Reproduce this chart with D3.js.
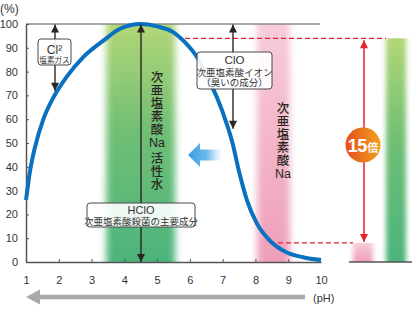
<!DOCTYPE html>
<html>
<head>
<meta charset="utf-8">
<script src="https://cdn.jsdelivr.net/npm/d3@7"></script>
<style>
  body { margin: 0; background: #fff; }
  svg { display: block; }
</style>
</head>
<body>
<script>
// pH axis and percentage axis
const phTicks = [1, 2, 3, 4, 5, 6, 7, 8, 9, 10];
const pctTicks = [0, 10, 20, 30, 40, 50, 60, 70, 80, 90, 100];

// HClO share (%) across pH
const curvePH  = [1.0, 1.12, 1.27, 1.53, 1.83, 2.25, 2.74, 3.36, 3.87, 4.5, 5.0, 5.5, 5.8, 6.22, 6.52, 6.83, 7.1, 7.3, 7.5, 7.74, 8.05, 8.44, 8.96, 9.45, 10.0];
const curvePct = [26, 38, 48, 60, 69, 78, 86, 93, 98, 100, 99, 96.5, 93, 86, 78, 69, 59, 50, 38, 26, 16, 9, 4, 2, 0.8];

// pH ranges of the two products
const greenBandPH = [3.45, 5.55];
const pinkBandPH = [8.05, 9.05];

// side-by-side HClO comparison
const compareNames = ["次亜塩素酸Na", "次亜塩素酸Na活性水"];
const compareValues = [8, 94];
const ratioText = ["15", "倍"];

// labels (vertical runs and horizontal "Na")
const activeLabel = ["次亜塩素酸", "Na", "活性水"];
const sodiumLabel = ["次亜塩素酸", "Na"];
const cl2Label = ["Cl²", "塩素ガス"];
const cloLabel = ["ClO", "次亜塩素酸イオン", "（臭いの成分）"];
const hcloLabel = ["HClO", "次亜塩素酸殺菌の主要成分"];
const cl2Span = [100, 72];
const cloSpan = [100, 56];

const W = 412, H = 322;
const FONT = "'Liberation Sans', 'Noto Sans CJK JP', sans-serif";
const JP = "'Noto Sans CJK JP', sans-serif";

const x = d3.scaleLinear().domain([1, 10]).range([26, 321]);
const y = d3.scaleLinear().domain([0, 100]).range([262, 24]);
const xc = d3.scalePoint().domain(compareNames).range([363, 396]);
const barW = 20;

const svg = d3.select("body").append("svg").attr("width", W).attr("height", H);
const defs = svg.append("defs");

const gGrad = defs.append("linearGradient").attr("id", "gGrad").attr("x1", 0).attr("x2", 0).attr("y1", 0).attr("y2", 1);
gGrad.append("stop").attr("offset", "0%").attr("stop-color", "#b2d676");
gGrad.append("stop").attr("offset", "45%").attr("stop-color", "#70bf75");
gGrad.append("stop").attr("offset", "100%").attr("stop-color", "#4cb47c");

const pGrad = defs.append("linearGradient").attr("id", "pGrad").attr("x1", 0).attr("x2", 0).attr("y1", 0).attr("y2", 1);
pGrad.append("stop").attr("offset", "0%").attr("stop-color", "#f7ccd9");
pGrad.append("stop").attr("offset", "100%").attr("stop-color", "#ee9fb9");

const oGrad = defs.append("linearGradient").attr("id", "oGrad").attr("x1", 0).attr("x2", 1).attr("y1", 0).attr("y2", 0);
oGrad.append("stop").attr("offset", "0%").attr("stop-color", "#e4501c");
oGrad.append("stop").attr("offset", "100%").attr("stop-color", "#f3a01e");

const bGrad = defs.append("linearGradient").attr("id", "bGrad").attr("x1", 0).attr("x2", 1).attr("y1", 0).attr("y2", 0);
bGrad.append("stop").attr("offset", "0%").attr("stop-color", "#3d9fe0").attr("stop-opacity", 1);
bGrad.append("stop").attr("offset", "55%").attr("stop-color", "#5ab0e8").attr("stop-opacity", 0.9);
bGrad.append("stop").attr("offset", "100%").attr("stop-color", "#8cc8f0").attr("stop-opacity", 0);

defs.append("filter").attr("id", "hblur").attr("x", "-50%").attr("width", "200%")
  .append("feGaussianBlur").attr("stdDeviation", "3.5 0");
defs.append("filter").attr("id", "sblur").attr("x", "-50%").attr("width", "200%").attr("y", "-10%").attr("height", "120%")
  .append("feGaussianBlur").attr("stdDeviation", "2.5 0.6");

defs.append("clipPath").attr("id", "plotClip").append("rect")
  .attr("x", 0).attr("y", y(100)).attr("width", W).attr("height", y(0) - y(100));

// arrow markers
function marker(id, color, w, h) {
  defs.append("marker").attr("id", id).attr("viewBox", "0 0 10 10")
    .attr("refX", 10).attr("refY", 5).attr("markerWidth", w).attr("markerHeight", h)
    .attr("markerUnits", "userSpaceOnUse").attr("orient", "auto-start-reverse")
    .append("path").attr("d", "M0,0L10,5L0,10Z").attr("fill", color);
}
marker("arDark", "#2b2523", 9, 8);
marker("arRed", "#e8202e", 9, 8);

// pH bands
const bands = svg.append("g").attr("clip-path", "url(#plotClip)");
bands.append("rect")
  .attr("x", x(greenBandPH[0])).attr("width", x(greenBandPH[1]) - x(greenBandPH[0]))
  .attr("y", y(100)).attr("height", y(0) - y(100))
  .attr("fill", "url(#gGrad)").attr("filter", "url(#hblur)");
bands.append("rect")
  .attr("x", x(pinkBandPH[0])).attr("width", x(pinkBandPH[1]) - x(pinkBandPH[0]))
  .attr("y", y(100)).attr("height", y(0) - y(100))
  .attr("fill", "url(#pGrad)").attr("filter", "url(#hblur)");

// comparison bars
const cmp = svg.append("g").attr("clip-path", "url(#plotClip)");
cmp.selectAll("rect").data(compareNames).join("rect")
  .attr("x", d => xc(d) - barW / 2).attr("width", barW)
  .attr("y", (d, i) => y(compareValues[i])).attr("height", (d, i) => y(0) - y(compareValues[i]))
  .attr("fill", (d, i) => i === 0 ? "url(#pGrad)" : "url(#gGrad)")
  .attr("filter", "url(#sblur)");

// red dashed reference lines
svg.append("line")
  .attr("x1", 185).attr("x2", xc(compareNames[1]) - barW / 2)
  .attr("y1", y(compareValues[1])).attr("y2", y(compareValues[1]))
  .attr("stroke", "#e8202e").attr("stroke-width", 1.3).attr("stroke-dasharray", "5,3");
svg.append("line")
  .attr("x1", 270).attr("x2", xc(compareNames[0]) - barW / 2)
  .attr("y1", y(compareValues[0])).attr("y2", y(compareValues[0]))
  .attr("stroke", "#e8202e").attr("stroke-width", 1.3).attr("stroke-dasharray", "5,3");

// red double arrow between the two levels
svg.append("line")
  .attr("x1", xc(compareNames[0]) + 1).attr("x2", xc(compareNames[0]) + 1)
  .attr("y1", y(compareValues[1]) + 2).attr("y2", y(compareValues[0]) - 1)
  .attr("stroke", "#e8202e").attr("stroke-width", 1.5)
  .attr("marker-start", "url(#arRed)").attr("marker-end", "url(#arRed)");

// axes
const axisColor = "#555";
svg.append("line").attr("x1", x(1)).attr("x2", x(10) - 1).attr("y1", y(100)).attr("y2", y(100))
  .attr("stroke", "#8a8a8a").attr("stroke-width", 1.5);

const yAxis = svg.append("g").attr("transform", `translate(${x(1)},0)`)
  .call(d3.axisLeft(y).tickValues(pctTicks).tickSize(-3).tickSizeOuter(0).tickPadding(8));
const xAxis = svg.append("g").attr("transform", `translate(0,${y(0)})`)
  .call(d3.axisBottom(x).tickValues(phTicks).tickSize(-3).tickSizeOuter(0).tickPadding(14));
[yAxis, xAxis].forEach(a => {
  a.select(".domain").attr("stroke", axisColor).attr("stroke-width", 1.5);
  a.selectAll(".tick line").attr("stroke", axisColor).attr("stroke-width", 1);
  a.selectAll(".tick text").attr("fill", "#333").attr("font-size", 11).attr("font-family", FONT);
});
xAxis.selectAll(".tick").filter(d => d === 1 || d === 10).select("line").remove();

// baseline under the comparison bars
svg.append("line").attr("x1", 349).attr("x2", W).attr("y1", y(0)).attr("y2", y(0))
  .attr("stroke", axisColor).attr("stroke-width", 1.5);

svg.append("text").attr("x", 0).attr("y", 13).text("(%)")
  .attr("font-size", 12).attr("font-family", FONT).attr("fill", "#333");
svg.append("text").attr("x", 313).attr("y", 302).text("(pH)")
  .attr("font-size", 11).attr("font-family", FONT).attr("fill", "#333");

// gray arrow towards acidic side
svg.append("line").attr("x1", 38).attr("x2", 305).attr("y1", 297).attr("y2", 297)
  .attr("stroke", "#a9a9a9").attr("stroke-width", 4.5);
svg.append("path").attr("d", "M26,297L40,289.5L40,304.5Z").attr("fill", "#a9a9a9");

// blue arrow
svg.append("path")
  .attr("d", "M188,155L200,143L200,149.5L222,149.5L222,160.5L200,160.5L200,167Z")
  .attr("fill", "url(#bGrad)");

// HClO curve
const pts = curvePH.map((p, i) => [p, curvePct[i]]);
svg.append("path").datum(pts)
  .attr("d", d3.line().x(d => x(d[0])).y(d => y(d[1])).curve(d3.curveMonotoneX))
  .attr("fill", "none").attr("stroke", "#0a70c0").attr("stroke-width", 4).attr("stroke-linecap", "butt");

// dark double arrows
function dArrow(px, v0, v1) {
  svg.append("line").attr("x1", px).attr("x2", px).attr("y1", y(v0) + 0.5).attr("y2", y(v1))
    .attr("stroke", "#2b2523").attr("stroke-width", 1.4)
    .attr("marker-start", "url(#arDark)").attr("marker-end", "url(#arDark)");
}
dArrow(55, cl2Span[0], cl2Span[1]);
dArrow(141, 100, 0);
dArrow(233, cloSpan[0], cloSpan[1]);

// label boxes: one multi-line text per box
function box(x0, y0, w, h, lines, sizes, ys) {
  const g = svg.append("g");
  g.append("rect").attr("x", x0).attr("y", y0).attr("width", w).attr("height", h).attr("rx", 3)
    .attr("fill", "#fff").attr("fill-opacity", 0.9).attr("stroke", "#4a4a4a").attr("stroke-width", 1);
  const t = g.append("text").attr("text-anchor", "middle").attr("fill", "#333");
  lines.forEach((s, i) => {
    t.append("tspan").attr("x", x0 + w / 2).attr("y", ys[i])
      .attr("font-size", sizes[i]).attr("font-family", i === 0 ? FONT : JP).text(s);
  });
}
box(38, 39, 33, 26, cl2Label, [12, 7.6], [53.5, 62.5]);
box(197, 52, 75, 37, cloLabel, [11.5, 9.5, 9.5], [64, 75.5, 86]);
box(87, 203, 108, 24, hcloLabel, [11, 9.5], [214, 224.5]);

// vertical product names: vertical CJK runs with a horizontal "Na"
function vName(cx, parts, tops, size) {
  parts.forEach((t, i) => {
    const isLatin = /^[A-Za-z]+$/.test(t);
    const tx = svg.append("text").attr("fill", "#2b2523").attr("font-size", size).attr("font-weight", 500)
      .text(t);
    if (isLatin) {
      tx.attr("x", cx).attr("y", tops[i] + size * 0.86).attr("text-anchor", "middle").attr("font-family", FONT);
    } else {
      tx.attr("x", cx).attr("y", tops[i]).attr("font-family", JP)
        .style("writing-mode", "vertical-rl").style("text-orientation", "upright")
        .attr("letter-spacing", 0.6);
    }
  });
}
vName(157, activeLabel, [70.5, 136, 151.5], 12.5);
vName(283, sodiumLabel, [101.5, 167], 12.5);

// ratio badge
const bx = xc(compareNames[0]), by = 145;
svg.append("circle").attr("cx", bx).attr("cy", by).attr("r", 17.5).attr("fill", "url(#oGrad)");
const rt = svg.append("text").attr("x", bx).attr("y", by + 6.5).attr("text-anchor", "middle")
  .attr("fill", "#fff").attr("font-weight", "bold");
rt.append("tspan").attr("font-size", 18).attr("font-family", FONT).attr("letter-spacing", -0.5).text(ratioText[0]);
rt.append("tspan").attr("font-size", 11).attr("font-family", JP).attr("dx", 0.5).text(ratioText[1]);
</script>
</body>
</html>
